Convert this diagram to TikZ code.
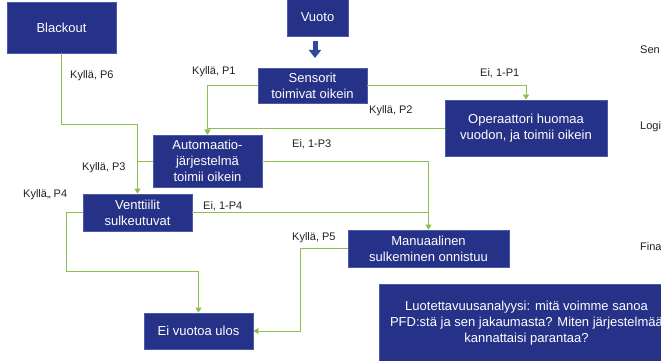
\documentclass[tikz,border=0pt]{standalone}
\usepackage{fontspec}
\setmainfont{Liberation Sans}
\usetikzlibrary{arrows.meta,calc}
\definecolor{navy}{HTML}{263288}
\definecolor{navyedge}{HTML}{4A5AB0}
\definecolor{lgreen}{HTML}{8DBE50}
\definecolor{bigarrow}{HTML}{2E4A9E}
\definecolor{lbl}{HTML}{222222}
\begin{document}
\begin{tikzpicture}[x=1pt,y=-1pt,
  box/.style={fill=navy,draw=navyedge,line width=0.8pt,text=white,align=center,inner sep=0pt,
    font=\fontsize{13}{16}\selectfont},
  conn/.style={draw=lgreen,line width=0.8pt,-{Triangle[width=6pt,length=5pt]}},
  plain/.style={draw=lgreen,line width=0.8pt},
  lab/.style={anchor=west,inner sep=0pt,text=lbl,font=\fontsize{11}{13}\selectfont},
  side/.style={anchor=west,inner sep=0pt,text=lbl,font=\fontsize{11}{13}\selectfont}]
\useasboundingbox (0,0) rectangle (661,361);
\clip (0,0) rectangle (661,361);
\fill[white] (0,0) rectangle (661,361);

\node[box,minimum width=109pt,minimum height=51pt] (black) at (61.5,27.5) {Blackout};
\node[box,minimum width=61pt,minimum height=38pt] (vuoto) at (317.5,17) {Vuoto};
\node[box,minimum width=109pt,minimum height=35pt] (sens) at (312.5,85.5) {Sensorit\\toimivat oikein};
\node[box,minimum width=162pt,minimum height=56pt] (oper) at (526,128) {Operaattori huomaa\\vuodon, ja toimii oikein};
\node[box,minimum width=109pt,minimum height=52pt] (auto) at (207.5,161) {Automaatio-\\järjestelmä\\toimii oikein};
\node[box,minimum width=109pt,minimum height=37pt] (vent) at (137.5,212.5) {Venttiilit\\sulkeutuvat};
\node[box,minimum width=161pt,minimum height=37pt] (manu) at (428.5,248.5) {Manuaalinen\\sulkeminen onnistuu};
\node[box,minimum width=109pt,minimum height=36pt] (eiv) at (198.5,331) {Ei vuotoa ulos};
\node[box,minimum width=295pt,minimum height=78pt] (luot) at (526.5,323) {Luotettavuusanalyysi: mitä voimme sanoa\\PFD:stä ja sen jakaumasta? Miten järjestelmää\\kannattaisi parantaa?};

% big arrow
\coordinate (ba1) at (315,41);
\coordinate (ba2) at (315,58);
\draw[bigarrow,line width=5pt,-{Triangle[width=12pt,length=8pt]}] (ba1) -- (ba2);

% connectors
\draw[conn] (black.south) -- ++(0,71) -| (vent.north);
\draw[conn] (sens.west) -| (auto.north);
\draw[conn] (sens.east) -| (oper.north);
\draw[conn] (oper.west) -| (auto.north);
\draw[plain] (auto.west) -- (auto.west -| vent.north);
\draw[conn] (auto.east) -| (manu.north);
\coordinate (k4) at (66,271);
\draw[conn] (vent.west) -| (k4) -| (eiv.north);
\draw[plain] (vent.east) -- (vent.east -| manu.north);
\draw[conn] (manu.west) -- ++(-47,0) |- (eiv.east);

% labels
\node[lab] (l6) at (70,76) {Kyllä, P6};
\node[lab] (l1) at (192,72) {Kyllä, P1};
\node[lab] (e1) at (480,73) {Ei, 1-P1};
\node[lab] (l2) at (369,111) {Kyllä, P2};
\node[lab] (l3) at (82,168) {Kyllä, P3};
\node[lab] (e3) at (292,144) {Ei, 1-P3};
\node[lab] (l4) at (23,195) {Kyllä,, P4};
\node[lab] (e4) at (203,206) {Ei, 1-P4};
\node[lab] (l5) at (292,238) {Kyllä, P5};

\node[side] (s1) at (640,50) {Sen};
\node[side] (s2) at (640,127) {Logi};
\node[side] (s3) at (640,247) {Fina};
\end{tikzpicture}
\end{document}
